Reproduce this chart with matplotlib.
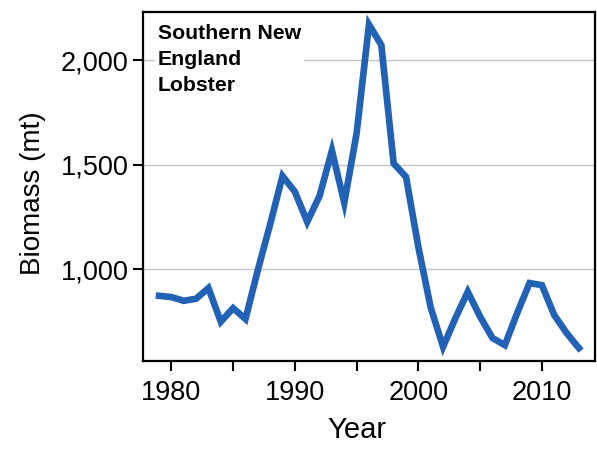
import matplotlib
matplotlib.use('Agg')
import matplotlib.pyplot as plt
from matplotlib.ticker import FuncFormatter

# biomasa de langosta, Southern New England
years = list(range(1979, 2014))
biomass = [872, 866, 848, 858, 909, 748, 813, 761, 995, 1215,
           1445, 1370, 1226, 1350, 1567, 1317, 1650, 2170, 2072, 1505,
           1441, 1105, 815, 628, 765, 891, 772, 670, 636, 789,
           933, 923, 780, 694, 622]

y_ticks = [1000, 1500, 2000]
x_ticks = [1980, 1985, 1990, 1995, 2000, 2005, 2010]
x_labels = ['1980', '', '1990', '', '2000', '', '2010']

plt.rcParams['font.family'] = ['Liberation Sans', 'DejaVu Sans']

fig = plt.figure(figsize=(5.97, 4.55), dpi=100)
ax = fig.add_axes([0.2395, 0.2066, 0.7571, 0.767])

ax.plot(years, biomass, color='#2161b6', linewidth=4.8, solid_joinstyle='miter')

ax.set_xlim(1977.7, 2014.3)
ax.set_ylim(560, 2230)
ax.set_yticks(y_ticks)
ax.yaxis.set_major_formatter(FuncFormatter(lambda v, p: '{:,.0f}'.format(v)))
ax.set_xticks(x_ticks)
ax.set_xticklabels(x_labels)
ax.grid(axis='y', color='#c4c4c4', linewidth=1.0)
ax.set_axisbelow(True)

for s in ax.spines.values():
    s.set_linewidth(1.6)
    s.set_color('black')
ax.tick_params(direction='out', length=7, width=1.5, labelsize=19.5)
ax.tick_params(axis='y', pad=3.6)
ax.tick_params(axis='x', pad=6.5)

ax.set_xlabel('Year', fontsize=21)
ax.xaxis.set_label_coords(0.473, -0.159)
ax.set_ylabel('Biomass (mt)', fontsize=20)
ax.yaxis.set_label_coords(-0.215, 0.48)

ax.text(0.033, 0.965, 'Southern New\nEngland\nLobster', transform=ax.transAxes,
        fontsize=15.3, fontweight='bold',
        va='top', ha='left', linespacing=1.47,
        bbox=dict(facecolor='white', edgecolor='none', pad=2))

fig.savefig('out.png', dpi=100)
